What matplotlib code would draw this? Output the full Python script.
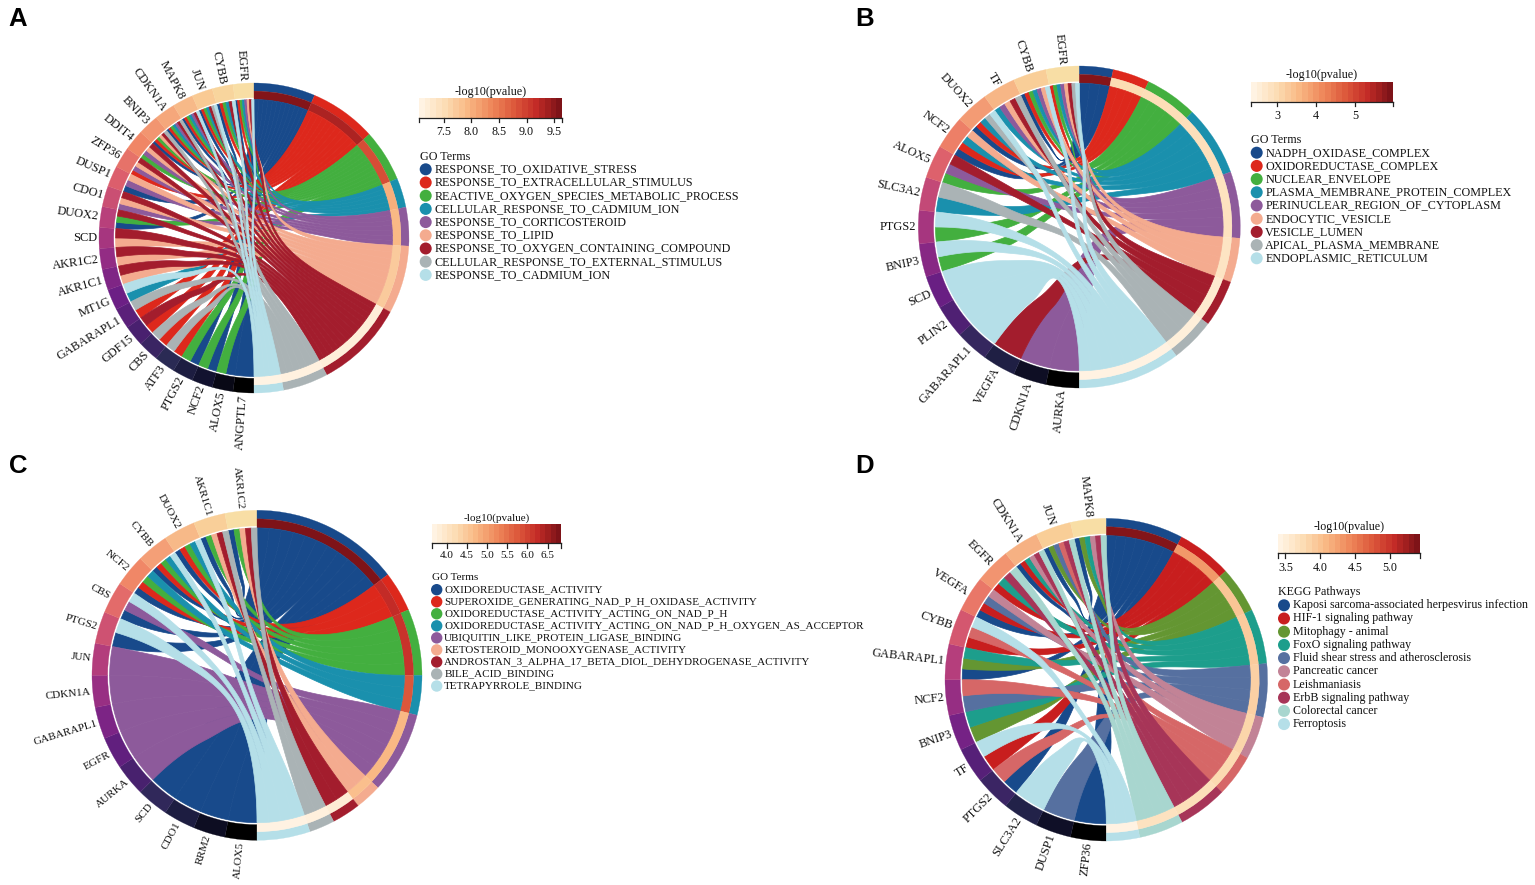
import numpy as np
import matplotlib
matplotlib.use("Agg")
import matplotlib.pyplot as plt
from matplotlib.colors import LinearSegmentedColormap
from matplotlib.patches import Circle, Wedge

plt.rcParams['font.family'] = ['Liberation Serif', 'DejaVu Serif']

# term colours shared by the GO panels
GO_COLORS = ["#184A8B", "#DD281C", "#43AF3F", "#1A90AD", "#8D5A9B",
             "#F4AB8F", "#A31D2D", "#AAB3B5", "#B5DFE8"]
KEGG_COLORS = ["#184A8B", "#C81E1E", "#649632", "#1D9E8C", "#5670A0",
               "#C28396", "#D66767", "#A73558", "#A8D6CF", "#B5DFE8"]

# Panel A
A_terms = ["RESPONSE_TO_OXIDATIVE_STRESS", "RESPONSE_TO_EXTRACELLULAR_STIMULUS",
           "REACTIVE_OXYGEN_SPECIES_METABOLIC_PROCESS", "CELLULAR_RESPONSE_TO_CADMIUM_ION",
           "RESPONSE_TO_CORTICOSTEROID", "RESPONSE_TO_LIPID",
           "RESPONSE_TO_OXYGEN_CONTAINING_COMPOUND", "CELLULAR_RESPONSE_TO_EXTERNAL_STIMULUS",
           "RESPONSE_TO_CADMIUM_ION"]
A_sizes = [23, 25, 19.5, 11, 14.5, 25.5, 33.5, 17, 11]
A_pvals = [9.6, 9.35, 8.9, 8.0, 7.9, 7.7, 7.15, 7.1, 7.05]
A_ticks = [7.5, 8.0, 8.5, 9.0, 9.5]
A_range = [7.05, 9.64]
# genes listed from the bottom of the ring going clockwise
A_genes = ["ANGPTL7", "ALOX5", "NCF2", "PTGS2", "ATF3", "CBS", "GDF15", "GABARAPL1",
           "MT1G", "AKR1C1", "AKR1C2", "SCD", "DUOX2", "CDO1", "DUSP1", "ZFP36",
           "DDIT4", "BNIP3", "CDKN1A", "MAPK8", "JUN", "CYBB", "EGFR"]
A_links = [[0], [0, 2], [0, 2], [0, 2], [1, 7], [1, 7], [1, 6], [1, 7],
           [3, 8], [5, 6], [5, 6], [5, 6], [0, 2, 6], [4, 5, 6], [0, 4, 5], [1, 4, 5, 6],
           [2, 4, 5, 6], [0, 1, 2, 5, 6, 7], [0, 1, 2, 3, 4, 6, 7], [0, 1, 2, 3, 4, 6, 8],
           [0, 1, 2, 3, 6, 7, 8], [0, 1, 2, 3, 6, 8], [0, 1, 2, 3, 4, 5, 6, 8]]

# Panel B
B_terms = ["NADPH_OXIDASE_COMPLEX", "OXIDOREDUCTASE_COMPLEX", "NUCLEAR_ENVELOPE",
           "PLASMA_MEMBRANE_PROTEIN_COMPLEX", "PERINUCLEAR_REGION_OF_CYTOPLASM",
           "ENDOCYTIC_VESICLE", "VESICLE_LUMEN", "APICAL_PLASMA_MEMBRANE",
           "ENDOPLASMIC_RETICULUM"]
B_sizes = [12.2, 13.3, 19, 25.5, 24, 16, 17, 16, 37]
B_pvals = [5.9, 2.95, 2.9, 2.85, 2.8, 2.75, 2.6, 2.45, 2.35]
B_ticks = [3, 4, 5]
B_range = [2.33, 5.97]
B_genes = ["AURKA", "CDKN1A", "VEGFA", "GABARAPL1", "PLIN2", "SCD", "BNIP3", "PTGS2",
           "SLC3A2", "ALOX5", "NCF2", "DUOX2", "TF", "CYBB", "EGFR"]
B_links = [[4], [4], [6], [8], [8], [8], [2, 8], [2, 8], [3, 7], [2, 4, 6],
           [0, 1, 3, 5], [0, 1, 3, 7, 8], [3, 4, 5, 6, 7], [0, 1, 2, 3, 4, 5, 8],
           [1, 2, 3, 4, 5, 6, 7, 8]]

# Panel C
C_terms = ["OXIDOREDUCTASE_ACTIVITY", "SUPEROXIDE_GENERATING_NAD_P_H_OXIDASE_ACTIVITY",
           "OXIDOREDUCTASE_ACTIVITY_ACTING_ON_NAD_P_H",
           "OXIDOREDUCTASE_ACTIVITY_ACTING_ON_NAD_P_H_OXYGEN_AS_ACCEPTOR",
           "UBIQUITIN_LIKE_PROTEIN_LIGASE_BINDING", "KETOSTEROID_MONOOXYGENASE_ACTIVITY",
           "ANDROSTAN_3_ALPHA_17_BETA_DIOL_DEHYDROGENASE_ACTIVITY", "BILE_ACID_BINDING",
           "TETRAPYRROLE_BINDING"]
C_sizes = [52.4, 14.2, 23.4, 14, 28.9, 9.3, 10.1, 9, 18.7]
C_pvals = [6.83, 6.3, 6.2, 5.8, 4.7, 4.6, 3.8, 3.7, 3.65]
C_ticks = [4.0, 4.5, 5.0, 5.5, 6.0, 6.5]
C_range = [3.63, 6.83]
C_genes = ["ALOX5", "RRM2", "CDO1", "SCD", "AURKA", "EGFR", "GABARAPL1", "CDKN1A", "JUN",
           "PTGS2", "CBS", "NCF2", "CYBB", "DUOX2", "AKR1C1", "AKR1C2"]
C_links = [[0], [0], [0], [0], [4], [4], [4], [4], [4], [0, 8], [0, 4, 8],
           [0, 1, 2, 3], [0, 1, 2, 3, 8], [0, 1, 2, 3, 8], [0, 2, 5, 6, 7], [0, 2, 5, 6, 7]]

# Panel D
D_terms = ["Kaposi sarcoma-associated herpesvirus infection", "HIF-1 signaling pathway",
           "Mitophagy - animal", "FoxO signaling pathway",
           "Fluid shear stress and atherosclerosis", "Pancreatic cancer", "Leishmaniasis",
           "ErbB signaling pathway", "Colorectal cancer", "Ferroptosis"]
D_sizes = [27.8, 19.9, 16.7, 19.8, 19.3, 15.5, 15.2, 17.8, 16, 12]
D_pvals = [5.4, 4.3, 3.95, 3.9, 3.85, 3.8, 3.75, 3.7, 3.65, 3.4]
D_ticks = [3.5, 4.0, 4.5, 5.0]
D_range = [3.39, 5.43]
D_genes = ["ZFP36", "DUSP1", "SLC3A2", "PTGS2", "TF", "BNIP3", "NCF2", "GABARAPL1", "CYBB",
           "VEGFA", "EGFR", "CDKN1A", "JUN", "MAPK8"]
D_links = [[0], [4], [9], [0, 6], [1, 9], [2, 3], [4, 6], [0, 2, 3], [1, 6, 9],
           [0, 1, 4, 5], [1, 3, 7, 8], [0, 1, 3, 5, 7, 8], [0, 2, 4, 6, 7, 8], [0, 2, 3, 5, 7, 8]]

gene_cmap = LinearSegmentedColormap.from_list("genes", [
    "#000000", "#12122F", "#2A2A55", "#4A2070", "#6C1F85", "#932C84", "#B8407B",
    "#DC5E6C", "#F08566", "#F5A67B", "#F9CA94", "#F8DEA5"])
pval_cmap = LinearSegmentedColormap.from_list("pval", [
    "#FFF3E3", "#FCDDB4", "#F9B884", "#EF8A5C", "#DD5A3C", "#C42B27", "#7E1318"])

fig = plt.figure(figsize=(15.35, 8.85), dpi=100)
ax = fig.add_axes([0, 0, 1, 1])
ax.set_xlim(0, 1535)
ax.set_ylim(885, 0)
ax.axis("off")


def polar(r, theta):
    # theta in degrees, clockwise from the top of the circle
    t = np.radians(theta)
    return np.array([r * np.sin(t), -r * np.cos(t)])


def ring_segment(cx, cy, r0, r1, t0, t1, color):
    # y axis is flipped, so wedge angles run clockwise from +x
    ax.add_patch(Wedge((cx, cy), r1, t0 - 90, t1 - 90, width=r1 - r0, fc=color, ec=color, lw=0.2))


def edge(r, t, g, g_mean):
    # bezier through the centre, kept on the term's shared path for the first part
    s = np.linspace(0, 1, 50)[:, None]
    w = np.clip((s - 0.15) / 0.6, 0, 1)
    w = w * w * (3 - 2 * w)
    end = polar(r, g_mean) + w * (polar(r, g) - polar(r, g_mean))
    return (1 - s) ** 2 * polar(r, t) + s ** 2 * end


def ribbon(cx, cy, r, g0, g1, t0, t1, g_mean, color):
    # g1 and t0 are the edges nearest the top, they are joined so the band does not twist
    top = edge(r, t0, g1, g_mean)
    bottom = edge(r, t1, g0, g_mean)[::-1]
    gene_arc = polar(r, np.linspace(g1, g0, 12)).T
    term_arc = polar(r, np.linspace(t1, t0, 12)).T
    pts = np.vstack([top, gene_arc, bottom, term_arc])
    ax.fill(cx + pts[:, 0], cy + pts[:, 1], fc=color, ec=color, lw=0.5, zorder=2)


def chord(cx, cy, R, genes, links, sizes, pvals, prange, colors, gene_fs):
    sizes = np.array(sizes, dtype=float)
    edges = np.concatenate([[0], np.cumsum(sizes)]) / sizes.sum() * 180
    w = 180 / len(genes)

    # gene side: every gene the same width, shared evenly by its links
    gene_spans = {}
    for i, (name, terms) in enumerate(zip(genes, links)):
        start = -180 + i * w
        ring_segment(cx, cy, 0.905 * R, R, start, start + w, gene_cmap(i / (len(genes) - 1)))
        for j, term in enumerate(terms):
            step = w / len(terms)
            gene_spans[(i, term)] = (start + j * step, start + (j + 1) * step)
        mid = start + w / 2
        x, y = polar(1.012 * R, mid)
        ax.text(cx + x, cy + y, name, rotation=-mid - 90, rotation_mode="anchor", ha="right",
                va="center", fontsize=gene_fs, color="#111111")

    # term side: links ordered from the top gene down, drawn term by term
    for k in range(len(sizes)):
        t0, t1 = edges[k], edges[k + 1]
        ring_segment(cx, cy, 0.948 * R, R, t0, t1, colors[k])
        v = (pvals[k] - prange[0]) / (prange[1] - prange[0])
        ring_segment(cx, cy, 0.893 * R, 0.948 * R, t0, t1, pval_cmap(v))
        members = [i for i in range(len(genes) - 1, -1, -1) if k in links[i]]
        g_mean = np.mean([np.mean(gene_spans[(i, k)]) for i in members])
        step = (t1 - t0) / len(members)
        for n, i in enumerate(members):
            g0, g1 = gene_spans[(i, k)]
            ribbon(cx, cy, 0.893 * R, g0, g1, t0 + n * step, t0 + (n + 1) * step, g_mean, colors[k])


def legend(x0, x1, bar_top, bar_bot, prange, ticks, title_x, title_y, label_y,
           head, head_x, head_y, terms, colors, dot_x, text_x, row0, row_step, fs, dot_r):
    vals = np.linspace(0, 1, 25)
    edges = np.linspace(x0, x1, 26)
    ax.pcolormesh(edges, [bar_top, bar_bot], vals[None, :], cmap=pval_cmap, vmin=0, vmax=1)
    ax.text(title_x, title_y, "-log10(pvalue)", ha="center", va="center", fontsize=fs, color="#111111")
    ax.plot([x0, x1], [bar_bot, bar_bot], color="#222222", lw=0.9)
    scale = (x1 - x0) / (prange[1] - prange[0])
    for v in [prange[0]] + ticks + [prange[1]]:
        xt = x0 + (v - prange[0]) * scale
        ax.plot([xt, xt], [bar_bot, bar_bot + 4.5], color="#222222", lw=0.9)
    for v in ticks:
        xt = x0 + (v - prange[0]) * scale
        ax.text(xt, label_y, str(v), ha="center", va="center", fontsize=fs, color="#111111")
    ax.text(head_x, head_y, head, ha="left", va="center", fontsize=fs, color="#111111")
    for i, term in enumerate(terms):
        y = row0 + i * row_step
        ax.add_patch(Circle((dot_x, y), dot_r, fc=colors[i], ec="none"))
        ax.text(text_x, y, term, ha="left", va="center", fontsize=fs, color="#111111")


chord(254, 238, 155, A_genes, A_links, A_sizes, A_pvals, A_range, GO_COLORS, 8.9)
legend(419, 562, 97.7, 117.7, A_range, A_ticks, 490.7, 91.5, 131.7, "GO Terms", 420, 156.7,
       A_terms, GO_COLORS, 425.7, 434.3, 169.3, 13.2, 8.73, 6)

chord(1079.3, 227, 161, B_genes, B_links, B_sizes, B_pvals, B_range, GO_COLORS, 8.9)
legend(1251, 1393, 81.7, 101.7, B_range, B_ticks, 1322, 75, 115.7, "GO Terms", 1251, 140,
       B_terms, GO_COLORS, 1256.7, 1265.3, 152.7, 13.2, 8.77, 6)

chord(257, 675.3, 165, C_genes, C_links, C_sizes, C_pvals, C_range, GO_COLORS, 8.1)
legend(431.7, 561, 524.3, 543.3, C_range, C_ticks, 496.7, 518.3, 555.7, "GO Terms", 431.7, 577.7,
       C_terms, GO_COLORS, 436.7, 444.3, 589.7, 12.04, 8.06, 5.7)

chord(1106.3, 679.7, 161.3, D_genes, D_links, D_sizes, D_pvals, D_range, KEGG_COLORS, 8.9)
legend(1277.7, 1420, 534, 553.3, D_range, D_ticks, 1349, 527.3, 567.7, "KEGG Pathways", 1278, 592.3,
       D_terms, KEGG_COLORS, 1284, 1292.7, 605.3, 13.2, 8.65, 6)

for letter, x, y in [("A", 8, 19), ("B", 855, 19), ("C", 9, 466), ("D", 855, 466)]:
    ax.text(x, y, letter, ha="left", va="center", fontsize=18.5, fontweight="bold",
            family=["Liberation Sans", "DejaVu Sans"], color="black")

fig.savefig("out.png", dpi=100)
